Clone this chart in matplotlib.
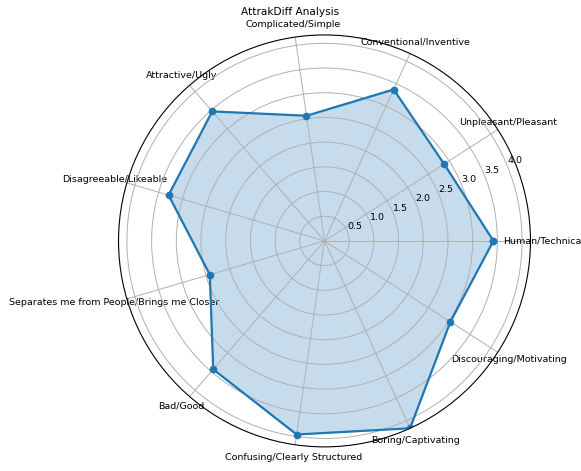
import numpy as np
import matplotlib
matplotlib.use("Agg")
import matplotlib.pyplot as plt

# AttrakDiff word pairs, counter-clockwise from 0 degrees
categories = ['Human/Technical', 'Unpleasant/Pleasant', 'Conventional/Inventive',
              'Complicated/Simple', 'Attractive/Ugly', 'Disagreeable/Likeable',
              'Separates me from People/Brings me Closer', 'Bad/Good',
              'Confusing/Clearly Structured', 'Boring/Captivating',
              'Discouraging/Motivating']
scores = [3.42, 2.88, 3.37, 2.56, 3.47, 3.29, 2.42, 3.44, 3.96, 4.17, 3.03]
r_ticks = [0.5, 1.0, 1.5, 2.0, 2.5, 3.0, 3.5, 4.0]

n = len(categories)
angles = np.linspace(0, 2 * np.pi, n, endpoint=False).tolist()
values = scores + scores[:1]
angles_closed = angles + angles[:1]

fig = plt.figure(figsize=(5.81, 4.71), dpi=100)
ax = fig.add_axes([0.204, 0.051, 0.709, 0.875], polar=True)

ax.fill(angles_closed, values, color='#1f77b4', alpha=0.25)
ax.plot(angles_closed, values, color='#1f77b4', linewidth=1.6, marker='o', markersize=4.5)

ax.set_xticks(angles)
ax.set_xticklabels(categories, fontsize=6.8)
ax.tick_params(axis='x', pad=-1.2)
ax.set_ylim(0, max(scores))
ax.set_yticks(r_ticks)
ax.set_yticklabels([str(t) for t in r_ticks], fontsize=6.8)
ax.grid(color='#b0b0b0', linewidth=0.7)
ax.spines['polar'].set_linewidth(0.8)

fig.text(0.5, 1 - 12 / 471, 'AttrakDiff Analysis', fontsize=7.6,
         ha='center', va='center')

fig.savefig('out.png', dpi=100)
